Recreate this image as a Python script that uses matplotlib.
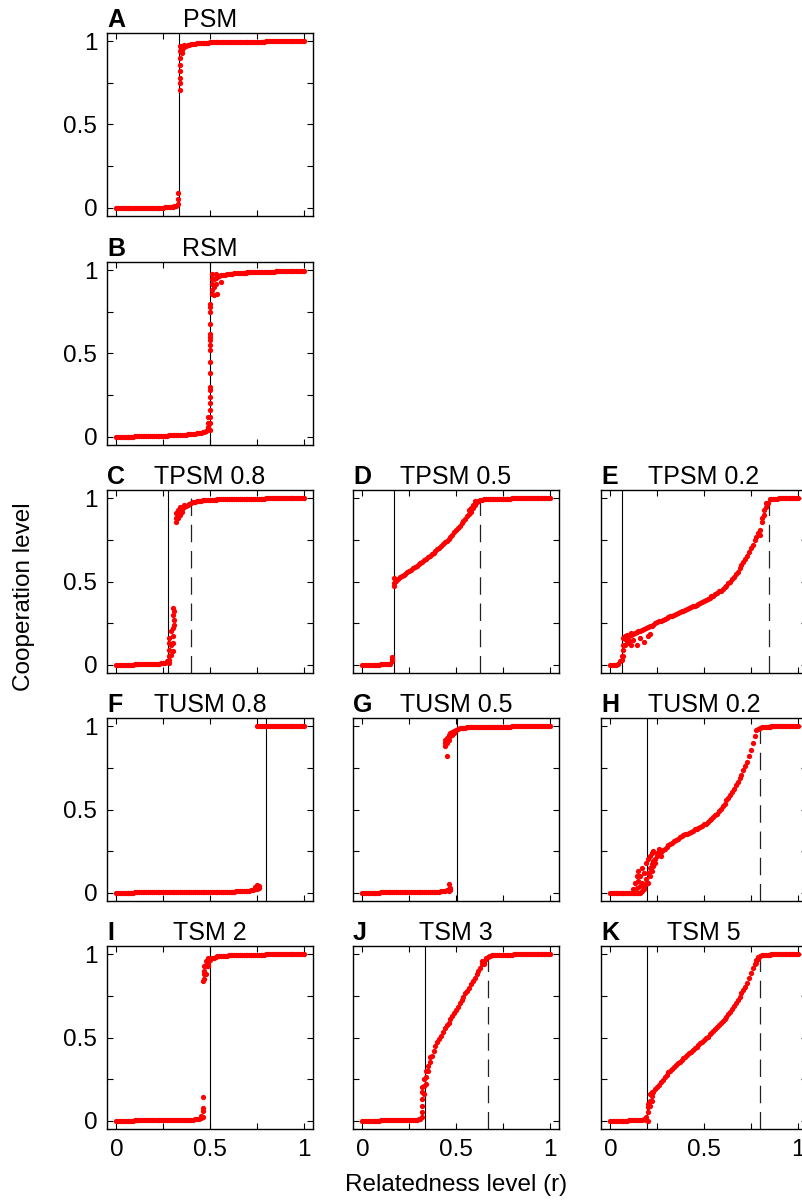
import numpy as np
import matplotlib
matplotlib.use('Agg')
import matplotlib.pyplot as plt

plt.rcParams['font.family'] = ['Liberation Sans', 'DejaVu Sans']

# relatedness grid (x values of the simulations)
r = np.round(np.arange(101) * 0.01, 2)

# cooperation level per panel, one value per r step (0.00 ... 1.00)
a_y = [0, 0, 0, 0, 0, 0, 0, 0, 0, 0,
       0, 0, 0, 0, 0, 0, 0, 0, 0, 0,
       0, 0, 0, 0, 0, 0, 0.002, 0.003, 0.004, 0.005,
       0.006, 0.008, 0.012, 0.025, 0.86, 0.95, 0.965, 0.972, 0.977, 0.98,
       0.982, 0.984, 0.986, 0.987, 0.988, 0.989, 0.99, 0.991, 0.992, 0.992,
       0.993, 0.993, 0.994, 0.994, 0.995, 0.995, 0.995, 0.996, 0.996, 0.996,
       0.996, 0.997, 0.997, 0.997, 0.997, 0.997, 0.998, 0.998, 0.998, 0.998,
       0.998, 0.998, 0.998, 0.998, 0.998, 0.998, 0.998, 0.998, 0.998, 0.998,
       0.999, 0.999, 0.999, 0.999, 0.999, 0.999, 0.999, 0.999, 0.999, 0.999,
       0.999, 0.999, 0.999, 0.999, 0.999, 0.999, 0.999, 0.999, 0.999, 0.999, 1.0]
b_y = [0, 0, 0, 0, 0, 0, 0, 0, 0, 0,
       0.002, 0.002, 0.002, 0.002, 0.003, 0.003, 0.003, 0.003, 0.004, 0.004,
       0.004, 0.005, 0.005, 0.005, 0.006, 0.006, 0.007, 0.007, 0.008, 0.008,
       0.009, 0.009, 0.01, 0.01, 0.011, 0.012, 0.012, 0.013, 0.014, 0.015,
       0.016, 0.017, 0.018, 0.02, 0.022, 0.024, 0.027, 0.03, 0.035, 0.05,
       0.45, 0.92, 0.95, 0.955, 0.96, 0.965, 0.97, 0.972, 0.974, 0.976,
       0.978, 0.979, 0.98, 0.981, 0.982, 0.983, 0.984, 0.985, 0.986, 0.986,
       0.987, 0.987, 0.988, 0.988, 0.989, 0.989, 0.99, 0.99, 0.99, 0.991,
       0.991, 0.991, 0.992, 0.992, 0.992, 0.993, 0.993, 0.993, 0.994, 0.994,
       0.994, 0.994, 0.995, 0.995, 0.995, 0.995, 0.996, 0.996, 0.996, 0.996, 0.997]
c_y = [0, 0, 0, 0, 0, 0, 0, 0, 0, 0,
       0.003, 0.003, 0.003, 0.003, 0.003, 0.004, 0.004, 0.004, 0.004, 0.004,
       0.005, 0.005, 0.006, 0.007, 0.008, 0.01, 0.012, 0.02, 0.05, 0.12,
       0.22, 0.27, 0.88, 0.9, 0.92, 0.935, 0.945, 0.955, 0.962, 0.968,
       0.972, 0.976, 0.979, 0.982, 0.984, 0.986, 0.987, 0.988, 0.989, 0.99,
       0.991, 0.991, 0.992, 0.992, 0.993, 0.993, 0.994, 0.994, 0.994, 0.995,
       0.995, 0.995, 0.995, 0.996, 0.996, 0.996, 0.996, 0.997, 0.997, 0.997,
       0.997, 0.997, 0.998, 0.998, 0.998, 0.998, 0.998, 0.998, 0.998, 0.998,
       0.999, 0.999, 0.999, 0.999, 0.999, 0.999, 0.999, 0.999, 0.999, 0.999,
       0.999, 0.999, 0.999, 0.999, 0.999, 0.999, 0.999, 0.999, 0.999, 0.999, 1.0]
d_y = [0, 0, 0, 0, 0, 0, 0, 0, 0, 0,
       0.003, 0.003, 0.004, 0.004, 0.005, 0.006, 0.02, 0.49, 0.505, 0.515,
       0.525, 0.533, 0.54, 0.548, 0.556, 0.564, 0.572, 0.58, 0.588, 0.596,
       0.604, 0.612, 0.62, 0.628, 0.637, 0.646, 0.655, 0.664, 0.673, 0.683,
       0.693, 0.703, 0.713, 0.724, 0.735, 0.746, 0.758, 0.77, 0.782, 0.795,
       0.808, 0.822, 0.836, 0.85, 0.864, 0.878, 0.892, 0.906, 0.92, 0.94,
       0.96, 0.975, 0.985, 0.99, 0.992, 0.993, 0.994, 0.995, 0.996, 0.996,
       0.997, 0.997, 0.997, 0.998, 0.998, 0.998, 0.998, 0.998, 0.998, 0.998,
       0.999, 0.999, 0.999, 0.999, 0.999, 0.999, 0.999, 0.999, 0.999, 0.999,
       0.999, 0.999, 0.999, 0.999, 0.999, 0.999, 0.999, 0.999, 0.999, 0.999, 1.0]
e_y = [0, 0, 0, 0, 0.005, 0.02, 0.05, 0.12, 0.155, 0.165,
       0.17, 0.18, 0.185, 0.19, 0.195, 0.2, 0.205, 0.21, 0.215, 0.22,
       0.225, 0.23, 0.235, 0.24, 0.25, 0.255, 0.26, 0.265, 0.27, 0.275,
       0.28, 0.285, 0.29, 0.295, 0.3, 0.305, 0.31, 0.315, 0.32, 0.325,
       0.33, 0.335, 0.34, 0.345, 0.35, 0.355, 0.36, 0.365, 0.37, 0.375,
       0.38, 0.39, 0.395, 0.4, 0.41, 0.415, 0.425, 0.43, 0.44, 0.445,
       0.455, 0.465, 0.475, 0.49, 0.5, 0.515, 0.53, 0.545, 0.56, 0.58,
       0.6, 0.615, 0.635, 0.655, 0.675, 0.7, 0.72, 0.75, 0.77, 0.79,
       0.81, 0.86, 0.9, 0.95, 0.97, 0.995, 0.997, 0.998, 0.998, 0.998,
       0.999, 0.999, 0.999, 0.999, 0.999, 0.999, 0.999, 0.999, 0.999, 0.999, 1.0]
f_y = [0, 0, 0, 0, 0, 0, 0, 0, 0, 0,
       0.002, 0.002, 0.002, 0.002, 0.002, 0.002, 0.002, 0.002, 0.002, 0.002,
       0.003, 0.003, 0.003, 0.003, 0.003, 0.003, 0.003, 0.003, 0.003, 0.003,
       0.003, 0.003, 0.003, 0.003, 0.003, 0.004, 0.004, 0.004, 0.004, 0.004,
       0.004, 0.004, 0.004, 0.004, 0.004, 0.005, 0.005, 0.005, 0.005, 0.005,
       0.005, 0.005, 0.005, 0.005, 0.005, 0.005, 0.005, 0.005, 0.005, 0.005,
       0.006, 0.006, 0.007, 0.007, 0.008, 0.008, 0.009, 0.009, 0.01, 0.01,
       0.012, 0.013, 0.015, 0.017, 0.02, 0.025, 0.03, 1.0, 1.0, 1.0,
       1.0, 1.0, 1.0, 1.0, 1.0, 1.0, 1.0, 1.0, 1.0, 1.0,
       1.0, 1.0, 1.0, 1.0, 1.0, 1.0, 1.0, 1.0, 1.0, 1.0, 1.0]
g_y = [0, 0, 0, 0, 0, 0, 0, 0, 0, 0,
       0.002, 0.002, 0.002, 0.002, 0.002, 0.002, 0.002, 0.002, 0.002, 0.002,
       0.002, 0.002, 0.002, 0.003, 0.003, 0.003, 0.003, 0.003, 0.003, 0.003,
       0.003, 0.003, 0.003, 0.003, 0.004, 0.004, 0.004, 0.004, 0.004, 0.004,
       0.005, 0.006, 0.008, 0.01, 0.012, 0.015, 0.02, 0.015, 0.965, 0.972,
       0.978, 0.983, 0.987, 0.99, 0.991, 0.992, 0.993, 0.994, 0.994, 0.995,
       0.995, 0.995, 0.996, 0.996, 0.996, 0.996, 0.997, 0.997, 0.997, 0.997,
       0.997, 0.998, 0.998, 0.998, 0.998, 0.998, 0.998, 0.998, 0.998, 0.998,
       0.999, 0.999, 0.999, 0.999, 0.999, 0.999, 0.999, 0.999, 0.999, 0.999,
       0.999, 0.999, 0.999, 0.999, 0.999, 0.999, 0.999, 0.999, 0.999, 0.999, 1.0]
h_y = [0, 0, 0, 0, 0, 0, 0, 0, 0, 0,
       0, 0, 0, 0, 0, 0, 0, 0.01, 0.04, 0.08,
       0.12, 0.15, 0.17, 0.19, 0.205, 0.22, 0.23, 0.245, 0.255, 0.265,
       0.275, 0.285, 0.295, 0.3, 0.31, 0.315, 0.325, 0.335, 0.34, 0.345,
       0.35, 0.355, 0.36, 0.365, 0.37, 0.38, 0.385, 0.39, 0.395, 0.4,
       0.41, 0.415, 0.425, 0.435, 0.445, 0.455, 0.465, 0.475, 0.49, 0.505,
       0.52, 0.535, 0.555, 0.57, 0.59, 0.605, 0.625, 0.645, 0.665, 0.69,
       0.71, 0.735, 0.76, 0.785, 0.82, 0.86, 0.9, 0.94, 0.975, 0.985,
       0.99, 0.995, 0.997, 0.998, 0.998, 0.998, 0.999, 0.999, 0.999, 0.999,
       0.999, 0.999, 0.999, 0.999, 0.999, 0.999, 0.999, 0.999, 0.999, 0.999, 1.0]
i_y = [0, 0, 0, 0, 0, 0, 0, 0, 0, 0,
       0.002, 0.002, 0.002, 0.002, 0.002, 0.002, 0.002, 0.002, 0.002, 0.002,
       0.003, 0.003, 0.003, 0.003, 0.003, 0.003, 0.003, 0.003, 0.003, 0.003,
       0.004, 0.004, 0.004, 0.004, 0.004, 0.004, 0.005, 0.005, 0.005, 0.005,
       0.006, 0.007, 0.008, 0.01, 0.012, 0.015, 0.02, 0.9, 0.93, 0.95,
       0.965, 0.975, 0.98, 0.984, 0.987, 0.989, 0.99, 0.991, 0.992, 0.992,
       0.993, 0.993, 0.994, 0.994, 0.995, 0.995, 0.995, 0.996, 0.996, 0.996,
       0.997, 0.997, 0.997, 0.997, 0.998, 0.998, 0.998, 0.998, 0.998, 0.998,
       0.999, 0.999, 0.999, 0.999, 0.999, 0.999, 0.999, 0.999, 0.999, 0.999,
       0.999, 0.999, 0.999, 0.999, 0.999, 0.999, 0.999, 0.999, 0.999, 0.999, 1.0]
j_y = [0, 0, 0, 0, 0, 0, 0, 0, 0, 0,
       0.002, 0.002, 0.002, 0.002, 0.002, 0.002, 0.002, 0.002, 0.002, 0.002,
       0.003, 0.003, 0.003, 0.003, 0.003, 0.004, 0.004, 0.004, 0.005, 0.006,
       0.008, 0.012, 0.02, 0.21, 0.26, 0.3, 0.35, 0.39, 0.42, 0.45,
       0.47, 0.49, 0.51, 0.535, 0.555, 0.575, 0.59, 0.61, 0.63, 0.65,
       0.665, 0.685, 0.705, 0.725, 0.745, 0.765, 0.78, 0.8, 0.82, 0.84,
       0.86, 0.88, 0.9, 0.92, 0.94, 0.955, 0.97, 0.985, 0.99, 0.993,
       0.995, 0.996, 0.996, 0.997, 0.997, 0.997, 0.998, 0.998, 0.998, 0.998,
       0.998, 0.999, 0.999, 0.999, 0.999, 0.999, 0.999, 0.999, 0.999, 0.999,
       0.999, 0.999, 0.999, 0.999, 0.999, 0.999, 0.999, 0.999, 0.999, 0.999, 1.0]
k_y = [0, 0, 0, 0, 0, 0, 0, 0, 0, 0,
       0.002, 0.002, 0.002, 0.002, 0.003, 0.003, 0.004, 0.005, 0.01, 0.02,
       0.05, 0.12, 0.15, 0.175, 0.19, 0.205, 0.215, 0.23, 0.245, 0.26,
       0.275, 0.29, 0.3, 0.31, 0.32, 0.335, 0.345, 0.355, 0.365, 0.375,
       0.385, 0.395, 0.405, 0.415, 0.425, 0.435, 0.445, 0.455, 0.465, 0.475,
       0.485, 0.495, 0.505, 0.52, 0.53, 0.54, 0.55, 0.565, 0.575, 0.585,
       0.6, 0.61, 0.625, 0.64, 0.655, 0.67, 0.69, 0.71, 0.725, 0.745,
       0.765, 0.785, 0.805, 0.825, 0.855, 0.885, 0.915, 0.94, 0.965, 0.985,
       0.99, 0.995, 0.997, 0.998, 0.998, 0.998, 0.999, 0.999, 0.999, 0.999,
       0.999, 0.999, 0.999, 0.999, 0.999, 0.999, 0.999, 0.999, 0.999, 0.999, 1.0]

# extra replicate runs that scatter away from the main curve
a_xr = [0.33, 0.33, 0.34, 0.34, 0.34, 0.34, 0.34, 0.34, 0.34, 0.35, 0.35, 0.36]
a_xy = [0.05, 0.09, 0.71, 0.75, 0.78, 0.82, 0.9, 0.94, 0.97, 0.93, 0.97, 0.98]
b_xr = [0.49, 0.49, 0.49, 0.5, 0.5, 0.5, 0.5, 0.5, 0.5, 0.5, 0.5, 0.5, 0.5, 0.5,
        0.5, 0.5, 0.5, 0.5, 0.5, 0.5, 0.5, 0.51, 0.51, 0.51, 0.51, 0.52, 0.52,
        0.53, 0.54, 0.56, 0.53]
b_xy = [0.06, 0.08, 0.12, 0.04, 0.08, 0.12, 0.16, 0.2, 0.24, 0.28, 0.3, 0.38,
        0.52, 0.55, 0.58, 0.6, 0.62, 0.68, 0.75, 0.78, 0.8, 0.86, 0.88, 0.95,
        0.98, 0.85, 0.9, 0.92, 0.86, 0.93, 0.98]
c_xr = [0.28, 0.28, 0.28, 0.28, 0.28, 0.29, 0.29, 0.3, 0.3, 0.3, 0.3, 0.3, 0.31,
        0.31, 0.32, 0.32, 0.33, 0.33, 0.34, 0.34, 0.35, 0.36]
c_xy = [0.01, 0.03, 0.09, 0.13, 0.16, 0.06, 0.2, 0.08, 0.13, 0.17, 0.3, 0.34,
        0.24, 0.32, 0.86, 0.91, 0.88, 0.93, 0.9, 0.95, 0.92, 0.96]
d_xr = [0.16, 0.16, 0.17, 0.17, 0.57, 0.58, 0.59, 0.6]
d_xy = [0.035, 0.045, 0.47, 0.52, 0.93, 0.94, 0.96, 0.985]
e_xr = [0.06, 0.07, 0.07, 0.07, 0.08, 0.08, 0.09, 0.1, 0.11, 0.12, 0.14, 0.16,
        0.18, 0.2, 0.21, 0.09, 0.11, 0.8, 0.81, 0.82, 0.83]
e_xy = [0.03, 0.05, 0.09, 0.16, 0.12, 0.17, 0.13, 0.14, 0.12, 0.15, 0.12, 0.16,
        0.135, 0.17, 0.185, 0.18, 0.19, 0.78, 0.88, 0.93, 0.97]
f_xr = [0.74, 0.75, 0.76, 0.75, 0.76]
f_xy = [0.035, 0.045, 0.04, 1.0, 1.0]
g_xr = [0.44, 0.44, 0.44, 0.45, 0.45, 0.45, 0.46, 0.46, 0.47, 0.47, 0.48, 0.49,
        0.46, 0.47, 0.46]
g_xy = [0.88, 0.9, 0.92, 0.82, 0.9, 0.93, 0.92, 0.95, 0.94, 0.96, 0.95, 0.96,
        0.055, 0.03, 0.01]
h_xr = [0.12, 0.13, 0.14, 0.14, 0.15, 0.15, 0.16, 0.16, 0.17, 0.17, 0.18, 0.18,
        0.19, 0.19, 0.2, 0.2, 0.21, 0.21, 0.22, 0.22, 0.23, 0.23, 0.24, 0.25,
        0.26, 0.27]
h_xy = [0.02, 0.06, 0.1, 0.03, 0.13, 0.07, 0.1, 0.04, 0.15, 0.06, 0.12, 0.02,
        0.18, 0.05, 0.2, 0.06, 0.1, 0.22, 0.13, 0.24, 0.16, 0.25, 0.18, 0.24,
        0.26, 0.22]
i_xr = [0.45, 0.46, 0.46, 0.46, 0.46, 0.47, 0.47, 0.47, 0.48, 0.48, 0.49, 0.49]
i_xy = [0.03, 0.06, 0.075, 0.14, 0.84, 0.85, 0.88, 0.93, 0.88, 0.96, 0.93, 0.98]
j_xr = [0.32, 0.32, 0.32, 0.32, 0.32, 0.33, 0.33, 0.34, 0.34, 0.35, 0.36, 0.64,
        0.65, 0.66]
j_xy = [0.05, 0.09, 0.13, 0.17, 0.2, 0.16, 0.25, 0.22, 0.3, 0.33, 0.38, 0.96,
        0.94, 0.98]
k_xr = [0.19, 0.2, 0.2, 0.2, 0.21, 0.21, 0.22, 0.22, 0.78, 0.79]
k_xy = [0.005, 0.0, 0.08, 0.1, 0.09, 0.16, 0.12, 0.17, 0.95, 0.97]

letters = ['A', 'B', 'C', 'D', 'E', 'F', 'G', 'H', 'I', 'J', 'K']
names = ['PSM', 'RSM', 'TPSM 0.8', 'TPSM 0.5', 'TPSM 0.2', 'TUSM 0.8',
         'TUSM 0.5', 'TUSM 0.2', 'TSM 2', 'TSM 3', 'TSM 5']
main_y = [a_y, b_y, c_y, d_y, e_y, f_y, g_y, h_y, i_y, j_y, k_y]
extra_r = [a_xr, b_xr, c_xr, d_xr, e_xr, f_xr, g_xr, h_xr, i_xr, j_xr, k_xr]
extra_y = [a_xy, b_xy, c_xy, d_xy, e_xy, f_xy, g_xy, h_xy, i_xy, j_xy, k_xy]
solid_r = [0.335, 0.5, 0.274, 0.168, 0.063, 0.8, 0.505, 0.198, 0.5, 0.337, 0.198]
dashed_r = [None, None, 0.4, 0.63, 0.845, None, None, 0.8, None, 0.67, 0.8]

# grid slot (row, col) of each panel
slots = [(0, 0), (1, 0), (2, 0), (2, 1), (2, 2), (3, 0), (3, 1), (3, 2),
         (4, 0), (4, 1), (4, 2)]

W, H = 803, 1200
fig = plt.figure(figsize=(W / 100, H / 100), dpi=100)

col_left = [107, 353, 601]
row_top = [33, 262, 490, 718, 946]
aw, ah = 206, 183

for i in range(11):
    row, col = slots[i]
    ax = fig.add_axes([col_left[col] / W, 1 - (row_top[row] + ah) / H, aw / W, ah / H])
    # threshold lines sit underneath the simulation points
    ax.axvline(solid_r[i], color='black', lw=0.8, zorder=1)
    if dashed_r[i] is not None:
        ax.axvline(dashed_r[i], color='#222222', lw=0.9, ls=(0, (14, 7)), zorder=1)
    ax.plot(r, main_y[i], 'o', color='red', ms=3.8, mec='none', zorder=2)
    ax.plot(extra_r[i], extra_y[i], 'o', color='red', ms=3.8, mec='none', zorder=2)
    ax.set_xlim(-0.05, 1.05)
    ax.set_ylim(-0.05, 1.05)
    ax.set_xticks([0, 0.25, 0.5, 0.75, 1])
    ax.set_yticks([0, 0.25, 0.5, 0.75, 1])
    if col == 0:
        ax.set_yticklabels(['0', '', '0.5', '', '1'])
    else:
        ax.set_yticklabels([])
    if row == 4:
        ax.set_xticklabels(['0', '', '0.5', '', '1'])
    else:
        ax.set_xticklabels([])
    ax.tick_params(direction='in', top=True, right=True, length=4, width=0.8,
                   labelsize=17.5, pad=7)
    for s in ax.spines.values():
        s.set_linewidth(1.0)
    ax.set_title(names[i], fontsize=18, pad=4)
    ax.set_title(letters[i], loc='left', fontsize=18, fontweight='bold', pad=4)

fig.text(24 / W, 1 - 597 / H, 'Cooperation level', rotation=90,
         ha='center', va='center', fontsize=17.5)
fig.text(456 / W, 1 - 1185 / H, 'Relatedness level (r)',
         ha='center', va='center', fontsize=17.5)

fig.savefig('out.png', dpi=100)
